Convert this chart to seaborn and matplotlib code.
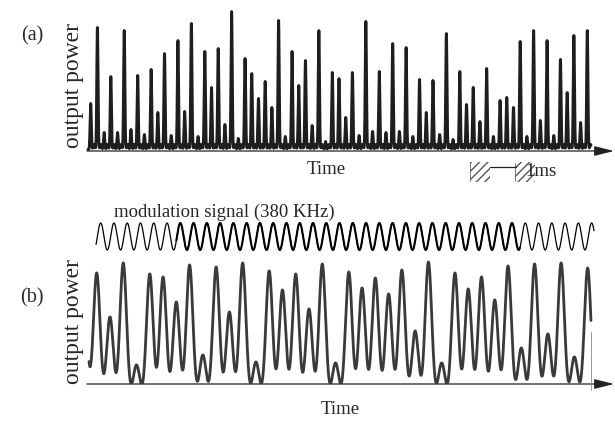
import numpy as np
import pandas as pd
import matplotlib
matplotlib.use("Agg")
import matplotlib.pyplot as plt
import seaborn as sns
from matplotlib.patches import FancyArrowPatch, Rectangle

# ---------------- data ----------------
# (a) heights of successive output-power spikes (arb. units), one per pulse index
spikes_a = [46, 122, 17, 73, 17, 119, 20, 74, 15, 80, 37, 96, 14, 109, 38, 126, 13, 98, 62, 101,
            25, 138, 11, 91, 76, 51, 68, 42, 129, 13, 98, 64, 89, 24, 119, 8, 77, 71, 32, 77,
            14, 128, 18, 78, 17, 106, 18, 102, 13, 70, 37, 69, 15, 116, 10, 78, 45, 62, 28, 81,
            13, 49, 52, 42, 108, 13, 119, 29, 109, 14, 90, 57, 114, 27, 119]
# (b) peak output power for each modulation period (first value: partly visible pulse)
peaks_b = [110, 111, 67, 121, 19, 110, 107, 82, 119, 29, 117, 72, 121, 22, 113, 94, 110, 75,
           120, 21, 112, 96, 106, 90, 114, 53, 122, 21, 111, 95, 107, 84, 118, 36, 120, 50,
           121, 27, 116]
first_period_b = -1          # index of first (clipped) pulse in (b)
mod_label = "modulation signal (380 KHz)"
ylabel = "output power"
xlabel = "Time"
scale_label = "1ms"

# ---------------- style ----------------
sns.set_theme(style="white")
plt.rcParams["font.family"] = ["Liberation Serif", "DejaVu Serif"]
FS = 13.5
W, H = 615, 422

fig = plt.figure(figsize=(W / 100, H / 100), dpi=100)


def rect(l, t, r, b):
    return [l / W, 1 - b / H, (r - l) / W, (b - t) / H]


# overlay for annotations (pixel coordinates)
ov = fig.add_axes([0, 0, 1, 1])
ov.set_xlim(0, W)
ov.set_ylim(H, 0)
ov.set_axis_off()

# ---------------- panel (a) ----------------
ax_a = fig.add_axes(rect(85, 0, 613, 152))
ax_a.set_axis_off()
ax_a.set_xlim(-0.849, 77.83)
ax_a.set_ylim(0, 152)
n_a = len(spikes_a)
t_a = np.linspace(-0.4, n_a - 0.45, 7000)
k_a = np.arange(n_a)
h_a = np.asarray(spikes_a, float)
spk = (h_a[None, :] * np.exp(-(t_a[:, None] - k_a[None, :]) ** 2 / (2 * 0.09 ** 2))).sum(1)
rip = (5.0 * np.exp(-(t_a[:, None] - k_a[None, :] - 0.5) ** 2 / (2 * 0.12 ** 2))).sum(1)
df_a = pd.DataFrame({"t": t_a, "p": 2.5 + spk + rip})
sns.lineplot(data=df_a, x="t", y="p", ax=ax_a, color="#1e1e1e", lw=2.1, estimator=None)
ax_a.set_axis_off()

# ---------------- panel (b) ----------------
ax_b = fig.add_axes(rect(85, 200, 613, 384))
ax_b.set_axis_off()
ax_b.set_xlim(-0.882, 38.91)
ax_b.set_ylim(0, 184)
h_b = np.asarray(peaks_b, float)
k_b = np.arange(len(peaks_b)) + first_period_b
base_b = -19.0
t_b = np.linspace(-0.58, 37.25, 5000)
trace_b = base_b + ((h_b - base_b)[None, :] *
                    np.exp(-(t_b[:, None] - k_b[None, :]) ** 2 / (2 * 0.252 ** 2))).sum(1)
df_b = pd.DataFrame({"t": t_b, "p": trace_b})
sns.lineplot(data=df_b, x="t", y="p", ax=ax_b, color="#3a3a3a", lw=2.0, estimator=None)

# modulation signal, one period per pulse
t_s = np.linspace(-0.05, 37.48, 4000)
mod = 147.5 + 13.5 * np.cos(2 * np.pi * (t_s - 0.3))
df_s = pd.DataFrame({"t": t_s, "m": mod})
sns.lineplot(data=df_s, x="t", y="m", ax=ax_b, color="black", lw=0.9, estimator=None)
mid = df_s[(df_s.t > 6.0) & (df_s.t < 31.9)]
sns.lineplot(data=mid, x="t", y="m", ax=ax_b, color="black", lw=1.5, estimator=None)
ax_b.set_axis_off()

# ---------------- axes arrows ----------------
for y in (151, 384):
    ov.add_patch(FancyArrowPatch((87, y), (614, y), arrowstyle="-|>,head_length=1.0,head_width=0.25",
                                 mutation_scale=12, lw=0.9, color="#222222", shrinkA=0, shrinkB=0))
ov.plot([590.5, 590.5], [332, 390], color="#888888", lw=0.6)

# ---------------- scale bar ----------------
for x0 in (470, 515):
    ov.add_patch(Rectangle((x0, 162), 20, 20, fill=False, hatch="////", lw=0, edgecolor="#555555"))
    ov.plot([x0, x0], [163, 181], color="#666666", lw=0.6)
ov.plot([490, 516], [167, 167], color="#222222", lw=0.9)
ov.text(525, 172, scale_label, fontsize=FS, ha="left", va="center")

# ---------------- text ----------------
ov.text(32, 36, "(a)", fontsize=FS + 1, ha="center", va="center")
ov.text(32, 298, "(b)", fontsize=FS + 1, ha="center", va="center")
ov.text(73, 85, ylabel, fontsize=17, rotation=90, ha="center", va="center")
ov.text(73, 322, ylabel, fontsize=17, rotation=90, ha="center", va="center")
ov.text(326, 170, xlabel, fontsize=FS, ha="center", va="center")
ov.text(340, 410, xlabel, fontsize=FS, ha="center", va="center")
ov.text(224, 212, mod_label, fontsize=FS, ha="center", va="center")

fig.savefig("out.png", dpi=100)
